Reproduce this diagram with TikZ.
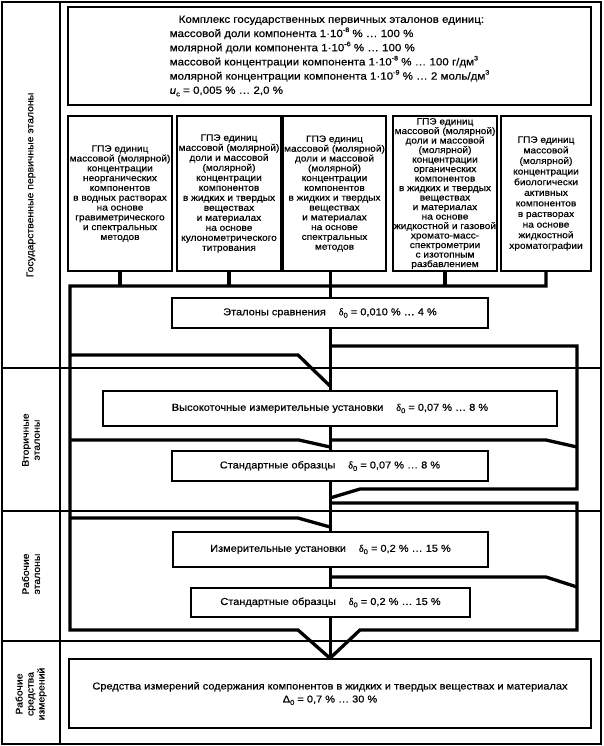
\documentclass[tikz,border=0pt]{standalone}
\usepackage{fontspec}
\setmainfont{Liberation Sans}[FakeStretch=1.1,FakeBold=0.5]
\newfontfamily\grkfont{Liberation Serif}[FakeBold=0.5]
\usetikzlibrary{backgrounds}
\newcommand\mysup[1]{\raisebox{0.9ex}{\fontsize{6.5}{6.5}\selectfont #1}}
\newcommand\mysub[1]{\raisebox{-0.45ex}{\fontsize{7}{7}\selectfont #1}}
\newcommand\mydelta[1]{{\grkfont δ}\mysub{#1}}
\setlength{\lineskiplimit}{-9pt}
\begin{document}
\setlength{\lineskiplimit}{-9pt}
\begin{tikzpicture}[x=1pt,y=-1pt,
  frm/.style={line width=1.3pt},
  dvd/.style={line width=1.1pt},
  box/.style={draw,line width=1.6pt,fill=white,inner sep=0pt,align=center,font=\fontsize{10}{13}\selectfont},
  gpe/.style={box,minimum height=155pt,font=\fontsize{9.2}{#1}\selectfont},
  topfont/.style={font=\fontsize{10.5}{14.2}\selectfont},
  pipe/.style={line width=3.3pt,line join=miter},
  lbl/.style={rotate=90,align=center,font=\fontsize{9.5}{11}\selectfont}]
\useasboundingbox (0,0) rectangle (604,746);

% top complex box
\node[box,align=left,minimum width=523pt,minimum height=98pt,topfont] (top) at (329.5,56)
 {\hspace*{9pt}Комплекс государственных первичных эталонов единиц:\\
  массовой доли компонента 1·10\mysup{-8} \% … 100 \%\\
  молярной доли компонента 1·10\mysup{-6} \% … 100 \%\\
  массовой концентрации компонента 1·10\mysup{-8} \% … 100 г/дм\mysup{3}\\
  молярной концентрации компонента 1·10\mysup{-9} \% … 2 моль/дм\mysup{3}\\
  {\itshape u}\mysub{c} = 0,005 \% … 2,0 \%};

% state primary standards
\node[gpe=9.8,minimum width=104pt] (g1) at (120,193.5)
 {ГПЭ единиц\\массовой (молярной)\\концентрации\\неорганических\\компонентов\\в водных растворах\\на основе\\гравиметрического\\и спектральных\\методов};
\node[gpe=10.0,minimum width=104pt] (g2) at (229,193.5)
 {ГПЭ единиц\\массовой (молярной)\\доли и массовой\\(молярной)\\концентрации\\компонентов\\в жидких и твердых\\веществах\\и материалах\\на основе\\кулонометрического\\титрования};
\node[gpe=9.8,minimum width=103pt] (g3) at (334.5,193.5)
 {ГПЭ единиц\\массовой (молярной)\\доли и массовой\\(молярной)\\концентрации\\компонентов\\в жидких и твердых\\веществах\\и материалах\\на основе\\спектральных\\методов};
\node[gpe=9.5,minimum width=104pt] (g4) at (445,193.5)
 {ГПЭ единиц\\массовой (молярной)\\доли и массовой\\(молярной)\\концентрации\\органических\\компонентов\\в жидких и твердых\\веществах\\и материалах\\на основе\\жидкостной и газовой\\хромато-масс-\\спектрометрии\\с изотопным\\разбавлением};
\node[gpe=10.6,minimum width=90pt] (g5) at (546,193.5)
 {ГПЭ единиц\\массовой\\(молярной)\\концентрации\\биологически\\активных\\компонентов\\в растворах\\на основе\\жидкостной\\хроматографии};

% lower boxes
\node[box,minimum width=316pt,minimum height=30pt] (et) at (330,313)
 {Эталоны сравнения\hspace{13pt}\mydelta{0} = 0,010 \% … 4 \%};
\node[box,minimum width=454pt,minimum height=35pt] (vy) at (330,408.5)
 {Высокоточные измерительные установки\hspace{13pt}\mydelta{0} = 0,07 \% … 8 \%};
\node[box,minimum width=316pt,minimum height=30pt] (so1) at (330,466)
 {Стандартные образцы\hspace{13pt}\mydelta{0} = 0,07 \% … 8 \%};
\node[box,minimum width=315pt,minimum height=35pt] (iz) at (330.5,549.5)
 {Измерительные установки\hspace{13pt}\mydelta{0} = 0,2 \% … 15 \%};
\node[box,minimum width=279pt,minimum height=29pt] (so2) at (330.5,602.5)
 {Стандартные образцы\hspace{13pt}\mydelta{0} = 0,2 \% … 15 \%};
\node[box,minimum width=522pt,minimum height=69pt] (sr) at (330,693.5)
 {Средства измерений содержания компонентов в жидких и твердых веществах и материалах\\
  Δ\mysub{0} = 0,7 \% … 30 \%};

% row labels
\node[lbl] (l1) at (31,185) {Государственные первичные эталоны};
\node[lbl] (l2) at (31,440) {Вторичные\\эталоны};
\node[lbl] (l3) at (31,574) {Рабочие\\эталоны};
\node[lbl] (l4) at (31,694) {Рабочие\\средства\\измерений};

\coordinate (busL) at (70,286);
\coordinate (cx) at (330,0);

\begin{pgfonlayer}{background}
 \draw[frm] (2,2) rectangle (601,744);
 \draw[dvd] (60,2) -- (60,744);
 \draw[dvd] (2,368) -- (601,368);
 \draw[dvd] (2,511) -- (601,511);
 \draw[dvd] (2,641) -- (601,641);
 % bus and left spine
 \draw[pipe] (g5.south) -- (g5.south |- busL) -- (busL) -- (70,630) -- (298,630) -- (cx |- sr.north);
 \foreach \g in {g1,g2,g4} \draw[pipe] (\g.south) -- (\g.south |- busL);
 % central line
 \draw[pipe,line width=3pt] (cx |- g3.south) -- (cx |- sr.north);
 % branches
 \draw[pipe] (330,346) -- (577,346) -- (577,489) -- (360,489) -- (330,498);
 \draw[pipe] (70,355) -- (298,355) -- (330,386);
 \draw[pipe] (70,440) -- (299,440) -- (330,447);
 \draw[pipe] (330,440) -- (546,440) -- (577,447);
 \draw[pipe] (330,503) -- (577,503) -- (577,630) -- (360,630) -- (cx |- sr.north);
 \draw[pipe] (70,518) -- (298,518) -- (330,527);
 \draw[pipe] (330,577) -- (546,577) -- (577,587);
\end{pgfonlayer}
\end{tikzpicture}
\end{document}
